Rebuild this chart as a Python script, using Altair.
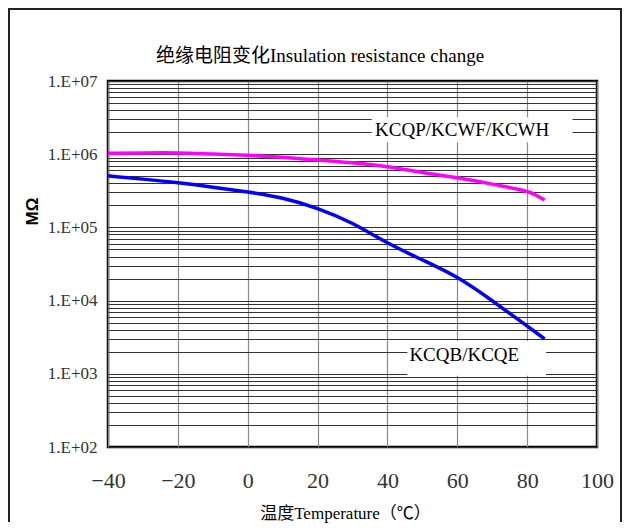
import altair as alt
import pandas as pd

# ---- data ----
temp_qp = [-40, -30, -20, -10, 0, 10, 20, 30, 40, 50, 60, 70, 80, 82, 85]
res_qp = [1.03e6, 1.04e6, 1.05e6, 1.0e6, 0.97e6, 0.91e6, 0.83e6, 0.77e6,
          0.68e6, 0.56e6, 0.48e6, 0.39e6, 0.316e6, 0.285e6, 0.236e6]

temp_qb = [-40, -30, -20, -10, 0, 10, 20, 30, 40, 50, 60, 70, 80, 85]
res_qb = [5.06e5, 4.57e5, 4.1e5, 3.55e5, 3.06e5, 2.57e5, 1.85e5, 1.17e5,
          6.0e4, 3.6e4, 2.15e4, 1.0e4, 4.5e3, 3.0e3]

series_names = ["KCQP/KCWF/KCWH", "KCQB/KCQE"]
series_colors = ["#FF00FF", "#0000FF"]
label_t = [61.4, 62.0]
label_r = [2.12e6, 1.83e3]
box_t1 = [35.5, 45.7]
box_t2 = [93.0, 85.4]
box_r1 = [3.2e6, 2.8e3]
box_r2 = [1.46e6, 9.4e2]

x_ticks = [-40, -20, 0, 20, 40, 60, 80, 100]
y_ticks = [k * 10 ** e for e in range(2, 7) for k in range(1, 10)] + [1e7]

title_text = "绝缘电阻变化Insulation resistance change"
x_title = "温度Temperature（℃）"
y_title = "MΩ"

SERIF = "Liberation Serif, Noto Sans CJK SC"

df = pd.concat([
    pd.DataFrame({"t": temp_qp, "r": res_qp, "s": series_names[0]}),
    pd.DataFrame({"t": temp_qb, "r": res_qb, "s": series_names[1]}),
])
lab = pd.DataFrame({"s": series_names, "t": label_t, "r": label_r,
                    "t1": box_t1, "t2": box_t2, "r1": box_r1, "r2": box_r2})

xs = alt.Scale(domain=[-40, 100], nice=False, zero=False)
ys = alt.Scale(type="log", domain=[100, 1e7], nice=False)

x_axis = alt.Axis(values=x_ticks, title=x_title, ticks=False, domain=False,
                  grid=True, gridColor="#8a8a8a", gridWidth=1.2,
                  labelFont="Liberation Serif", labelFontSize=22, labelColor="#333",
                  labelBaseline="middle", labelPadding=33, labelFlush=False,
                  labelOverlap=False,
                  titleFont=SERIF, titleFontSize=17, titleFontWeight="normal",
                  titleColor="#000", titleX=237, titleY=66,
                  titleBaseline="middle", titleAlign="center")
y_axis = alt.Axis(values=y_ticks, title=y_title, ticks=False, domain=False,
                  grid=True, gridColor="#333", gridWidth=1,
                  labelExpr="abs(log(datum.value)/LN10 - round(log(datum.value)/LN10)) < 0.001 ? '1.E+0' + round(log(datum.value)/LN10) : ''",
                  labelFont="Liberation Serif", labelFontSize=17, labelColor="#333",
                  labelPadding=11, labelOverlap=False, labelFlush=False,
                  titleFont="Liberation Sans", titleFontSize=17, titleFontWeight="bold",
                  titleColor="#000", titleAngle=270, titleX=-76, titleY=130,
                  titleAlign="center", titleBaseline="middle")

lines = alt.Chart(df).mark_line(strokeWidth=3.5, interpolate="basis").encode(
    x=alt.X("t:Q", scale=xs, axis=x_axis),
    y=alt.Y("r:Q", scale=ys, axis=y_axis),
    color=alt.Color("s:N", scale=alt.Scale(domain=series_names, range=series_colors), legend=None),
    detail="s:N",
)

boxes = alt.Chart(lab).mark_rect(fill="white").encode(
    x=alt.X("t1:Q", scale=xs), x2="t2:Q",
    y=alt.Y("r1:Q", scale=ys), y2="r2:Q",
)

texts = alt.Chart(lab).mark_text(font="Liberation Serif", fontSize=19, color="#000",
                                 align="center", baseline="middle").encode(
    x=alt.X("t:Q", scale=xs), y=alt.Y("r:Q", scale=ys), text="s:N"
)

title = alt.Chart(pd.DataFrame({"txt": [title_text]})).mark_text(
    font=SERIF, fontSize=19, color="#000", align="center", baseline="alphabetic"
).encode(x=alt.value(212), y=alt.value(-19), text="txt:N")

frame_left = alt.Chart(pd.DataFrame({"a": [0]})).mark_rule(color="#222", strokeWidth=2).encode(
    x=alt.value(-99), y=alt.value(-72), y2=alt.value(441))
frame_right = alt.Chart(pd.DataFrame({"a": [0]})).mark_rule(color="#222", strokeWidth=2).encode(
    x=alt.value(513), y=alt.value(-72), y2=alt.value(441))
frame_top = alt.Chart(pd.DataFrame({"a": [0]})).mark_rule(color="#222", strokeWidth=2).encode(
    x=alt.value(-100), x2=alt.value(514), y=alt.value(-72))

chart = alt.layer(boxes, lines, texts, title, frame_left, frame_right, frame_top).properties(
    width=489, height=366,
    autosize=alt.AutoSizeParams(type="none"),
    padding={"left": 100, "top": 73, "right": 25, "bottom": 76},
    background="white",
).configure_view(stroke="#000", strokeWidth=2.5)

chart.save("out.html", embed_options={"renderer": "svg", "actions": False})
